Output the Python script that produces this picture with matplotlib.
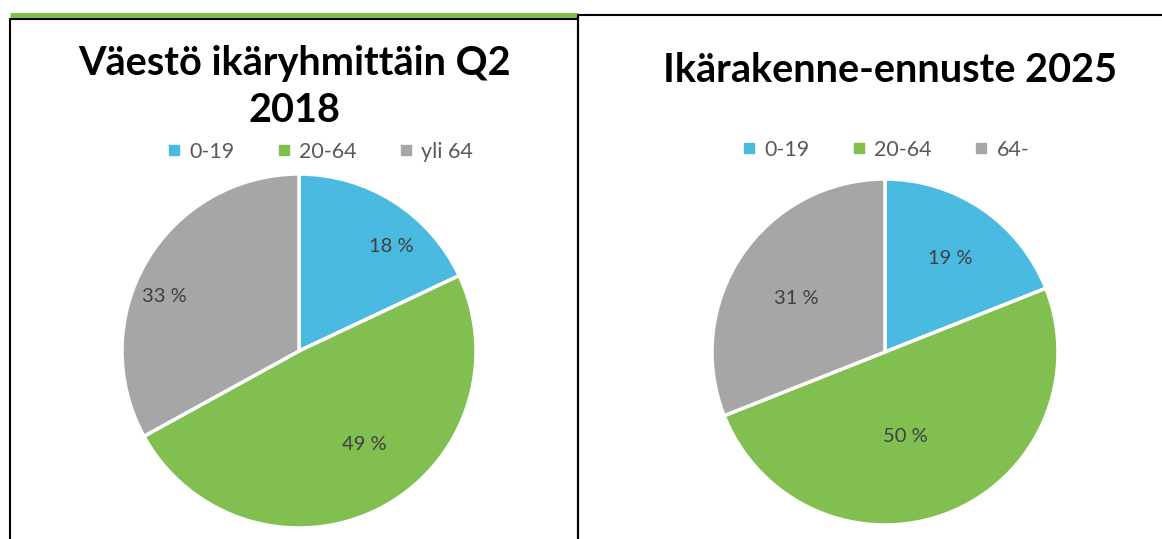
import matplotlib
matplotlib.use("Agg")
import matplotlib.pyplot as plt
from matplotlib.lines import Line2D

plt.rcParams['font.family'] = ['Lato', 'DejaVu Sans']

# Data
labels_2018 = ["0-19", "20-64", "yli 64"]
values_2018 = [18, 49, 33]
labels_2025 = ["0-19", "20-64", "64-"]
values_2025 = [19, 50, 31]
title_2018 = "Väestö ikäryhmittäin Q2\n2018"
title_2025 = "Ikärakenne-ennuste 2025"

colors = ["#4BBAE0", "#82BF51", "#A6A6A6"]
W, H = 1162, 539
fig = plt.figure(figsize=(W / 100, H / 100), dpi=100)


def px_axes(cx, cy, r):
    return fig.add_axes([(cx - r) / W, 1 - (cy + r) / H, 2 * r / W, 2 * r / H])


def draw_pie(ax, values, label_pos):
    wedges, texts, autotexts = ax.pie(
        values, colors=colors, startangle=90, counterclock=False,
        wedgeprops=dict(edgecolor="white", linewidth=2.5),
        autopct=lambda p: f"{p:.0f} %", pctdistance=0.7,
        textprops=dict(color="#404040", fontsize=14.5))
    for t, (x, y) in zip(autotexts, label_pos):
        t.set_position((x, y))
    ax.set_xlim(-1, 1)
    ax.set_ylim(-1, 1)
    ax.set_aspect("equal")
    return wedges


ax1 = px_axes(299, 351, 177)
draw_pie(ax1, values_2018, [(0.52, 0.59), (0.37, -0.53), (-0.76, 0.31)])
ax2 = px_axes(885, 352, 173)
draw_pie(ax2, values_2025, [(0.38, 0.54), (0.12, -0.49), (-0.51, 0.31)])

# Titles
fig.text(295 / W, 1 - 87 / H, title_2018, ha="center", va="center",
         fontsize=28.5, fontweight="bold", color="black", linespacing=1.32)
fig.text(890 / W, 1 - 70 / H, title_2025, ha="center", va="center",
         fontsize=28.5, fontweight="bold", color="black")


def legend(labels, cx, cy):
    handles = [Line2D([], [], marker="s", linestyle="none", markersize=7,
                      markerfacecolor=c, markeredgecolor=c) for c in colors]
    fig.legend(handles, labels, loc="center", bbox_to_anchor=(cx / W, 1 - cy / H),
               ncol=3, frameon=False, fontsize=15.5, labelcolor="#595959",
               handletextpad=0.3, columnspacing=1.9, handlelength=0.8)


legend(labels_2018, 319, 152)
legend(labels_2025, 885, 150)

# Panel borders
ov = fig.add_axes([0, 0, 1, 1], facecolor="none")
ov.set_xlim(0, W)
ov.set_ylim(H, 0)
ov.axis("off")
ov.plot([10, 578], [14.5, 14.5], color="#7CBF4A", linewidth=3.5, solid_capstyle="butt")
ov.plot([10, 10, 578, 578], [H, 18.5, 18.5, H], color="black", linewidth=1.5)
ov.plot([578, 578, W], [H, 14.5, 14.5], color="black", linewidth=1.5)

fig.savefig("out.png", dpi=100)
